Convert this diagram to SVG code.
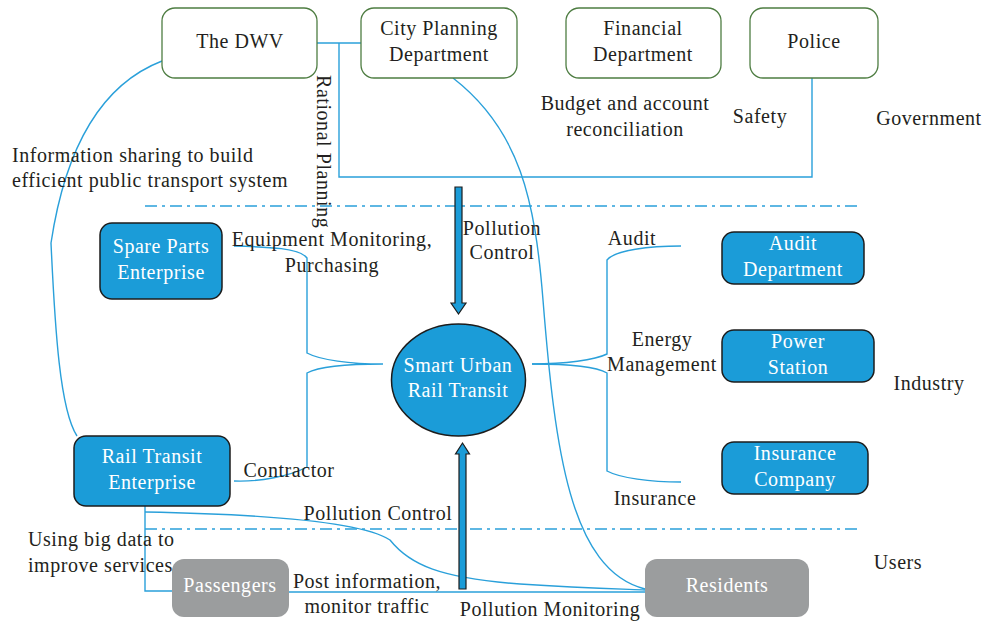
<svg xmlns="http://www.w3.org/2000/svg" width="988" height="624" viewBox="0 0 988 624">
<defs>
<style>
text{font-family:"Liberation Serif","DejaVu Serif",serif;font-size:20px;letter-spacing:0.55px;fill:#231f20;text-anchor:middle}
.gov{fill:#fff;stroke:#4e7d42;stroke-width:1.3}
.ind{fill:#1b9cd8;stroke:#1c1c1c;stroke-width:1.5}
.usr{fill:#9b9d9e;stroke:none}
.w{fill:#fff}
.ln{fill:none;stroke:#2aa0da;stroke-width:1.4}
.dd{fill:none;stroke:#2aa0da;stroke-width:1.3;stroke-dasharray:12,5,3,5}
.blk{fill:#1b9cd8;stroke:#1c1c1c;stroke-width:1.2}
.l{text-anchor:start}
</style>
</defs>
<rect width="988" height="624" fill="#fff"/>
<g id="connectors">
<path class="dd" d="M145,206 H860"/>
<path class="dd" d="M145,529 H860"/>
<path class="ln" d="M317,43 H361"/>
<path class="ln" d="M339,43 V177 H812 V78"/>
<path class="ln" d="M453,78 C520,130 535,200 543,300 C555,450 570,570 645,589"/>
<path class="ln" d="M162,61 C100,85 65,150 51,243 C55,330 60,410 77,436"/>
<path class="ln" d="M234,246 C270,247 300,248 307,258 V353 C320,360 350,364 383,364 C350,364 320,366 307,373 V467 C290,476 260,482 234,481"/>
<path class="ln" d="M532,364 C565,364 595,360 607,354 V260 C615,250 650,246 681,246"/>
<path class="ln" d="M532,364 C565,364 595,366 607,373 V471 C620,478 650,482 681,482"/>
<path class="ln" d="M145,506 V591 H172"/>
<path class="ln" d="M145,512 C250,514 360,520 390,540 C410,565 440,578 520,584 C580,588 620,589 645,590"/>
<path class="ln" d="M289,592 H645"/>
<path class="blk" d="M455,187 H462 V303 H466 L458.5,314 L451,303 H455 Z"/>
<path class="blk" d="M459,589 H466 V454 H469.5 L462.5,443 L455.5,454 H459 Z"/>
</g>
<g id="dwv"><rect class="gov" x="162" y="8" width="155" height="70" rx="13"/><text x="240" y="48">The DWV</text></g>
<g id="cityplanning"><rect class="gov" x="361" y="8" width="156" height="70" rx="13"/><text x="439" y="35">City Planning</text><text x="439" y="61">Department</text></g>
<g id="financial"><rect class="gov" x="566" y="8" width="155" height="70" rx="13"/><text x="643" y="35">Financial</text><text x="643" y="61">Department</text></g>
<g id="police"><rect class="gov" x="750" y="8" width="128" height="70" rx="13"/><text x="814" y="48">Police</text></g>
<g id="spareparts"><rect class="ind" x="100" y="223" width="122" height="76" rx="12"/><text class="w" x="161" y="253">Spare Parts</text><text class="w" x="161" y="279">Enterprise</text></g>
<g id="railtransit"><rect class="ind" x="74" y="436" width="156" height="70" rx="12"/><text class="w" x="152" y="463">Rail Transit</text><text class="w" x="152" y="489">Enterprise</text></g>
<g id="smart"><ellipse class="ind" cx="458.5" cy="380" rx="67" ry="56"/><text class="w" x="458" y="372">Smart Urban</text><text class="w" x="458" y="397">Rail Transit</text></g>
<g id="audit"><rect class="ind" x="722" y="232" width="142" height="52" rx="12"/><text class="w" x="793" y="250">Audit</text><text class="w" x="793" y="276">Department</text></g>
<g id="power"><rect class="ind" x="722" y="330" width="152" height="52" rx="12"/><text class="w" x="798" y="348">Power</text><text class="w" x="798" y="374">Station</text></g>
<g id="insurance"><rect class="ind" x="722" y="442" width="146" height="52" rx="12"/><text class="w" x="795" y="460">Insurance</text><text class="w" x="795" y="486">Company</text></g>
<g id="passengers"><rect class="usr" x="172" y="559" width="117" height="58" rx="12"/><text class="w" x="230" y="592">Passengers</text></g>
<g id="residents"><rect class="usr" x="645" y="559" width="164" height="58" rx="12"/><text class="w" x="727" y="592">Residents</text></g>
<g id="labels">
<text x="625" y="110">Budget and account</text>
<text x="625" y="136">reconciliation</text>
<text x="760" y="123">Safety</text>
<text x="929" y="125">Government</text>
<text class="l" x="12" y="162">Information sharing to build</text>
<text class="l" x="12" y="187">efficient public transport system</text>
<text class="l" transform="translate(317,75) rotate(90)">Rational Planning</text>
<text x="332" y="246">Equipment Monitoring,</text>
<text x="332" y="272">Purchasing</text>
<text x="502" y="235">Pollution</text>
<text x="502" y="259">Control</text>
<text x="632" y="245">Audit</text>
<text x="662" y="346">Energy</text>
<text x="662" y="371">Management</text>
<text x="929" y="390">Industry</text>
<text x="655" y="505">Insurance</text>
<text x="289" y="477">Contractor</text>
<text x="378" y="520">Pollution Control</text>
<text class="l" x="28" y="546">Using big data to</text>
<text class="l" x="28" y="572">improve services</text>
<text x="898" y="569">Users</text>
<text x="367" y="588">Post information,</text>
<text x="367" y="613">monitor traffic</text>
<text x="550" y="616">Pollution Monitoring</text>
</g>
</svg>
